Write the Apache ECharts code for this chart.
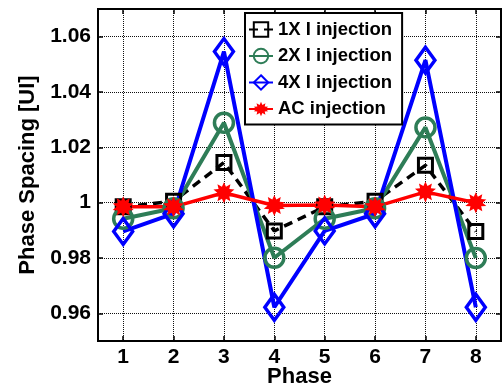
<!DOCTYPE html>
<html>
<head>
<meta charset="utf-8">
<script src="https://cdn.jsdelivr.net/npm/echarts@6/dist/echarts.min.js"></script>
<style>
  html, body { margin: 0; padding: 0; background: #fff; }
  #chart { width: 504px; height: 388px; }
</style>
</head>
<body>
<div id="chart"></div>
<script>
const phases = [1, 2, 3, 4, 5, 6, 7, 8];
const inj1x = [0.9985, 1.0005, 1.0145, 0.9898, 0.9985, 1.0005, 1.0135, 0.9896];
const inj2x = [0.9942, 0.998, 1.0289, 0.9801, 0.9942, 0.998, 1.0272, 0.980];
const inj4x = [0.9896, 0.996, 1.0546, 0.9622, 0.9898, 0.996, 1.0515, 0.9622];
const injAC = [0.9985, 0.9985, 1.0036, 0.999, 0.9992, 0.9985, 1.0039, 1.000];
const yTicks = [0.96, 0.98, 1.00, 1.02, 1.04, 1.06];

const font = 'Liberation Sans, Arial, sans-serif';

// spiky star for the AC markers
function starPath(n, inner) {
  let d = '';
  for (let i = 0; i < n * 2; i++) {
    const r = i % 2 ? inner : 1;
    const a = Math.PI * i / n;
    d += (i ? 'L' : 'M') + (r * Math.sin(a)).toFixed(3) + ',' + (-r * Math.cos(a)).toFixed(3);
  }
  return 'path://' + d + 'Z';
}

const pairs = ys => phases.map((x, i) => [x, ys[i]]);

const myChart = echarts.init(document.getElementById('chart'));

const gridLine = { show: true, lineStyle: { color: '#111', width: 1, type: [1, 1] } };

let option = {
  backgroundColor: '#fff',
  animation: false,
  grid: {
    left: 98, right: 3, top: 9, bottom: 47,
    containLabel: false, outerBoundsMode: 'none',
    show: true, borderColor: '#000', borderWidth: 2
  },
  legend: {
    orient: 'vertical',
    left: 245, top: 13,
    padding: [7, 10, 6, 3],
    itemWidth: 24, itemHeight: 18, itemGap: 7.5,
    backgroundColor: '#fff',
    borderColor: '#000', borderWidth: 2,
    textStyle: { fontFamily: font, fontWeight: 'bold', fontSize: 18.5, color: '#000' },
    data: ['1X I injection', '2X I injection', '4X I injection', 'AC injection']
  },
  xAxis: [
    {
      type: 'value', min: 0.5, max: 8.5,
      name: 'Phase', nameLocation: 'middle', nameGap: 25, nameMoveOverlap: false,
      nameTextStyle: { fontFamily: font, fontWeight: 'bold', fontSize: 22, color: '#000' },
      axisLine: { lineStyle: { color: '#000', width: 2 } },
      axisTick: { inside: true, length: 5, lineStyle: { color: '#000', width: 1.5 }, customValues: phases },
      axisLabel: { customValues: phases, margin: 6, fontFamily: font, fontWeight: 'bold', fontSize: 21, color: '#000' },
      splitLine: gridLine
    },
    {
      type: 'value', min: 0.5, max: 8.5, position: 'top',
      axisLine: { lineStyle: { color: '#000', width: 2 } },
      axisTick: { inside: true, length: 5, lineStyle: { color: '#000', width: 1.5 }, customValues: phases },
      axisLabel: { show: false },
      splitLine: { show: false }
    }
  ],
  yAxis: [
    {
      type: 'value', min: 0.95, max: 1.07,
      name: 'Phase Spacing [UI]', nameLocation: 'middle', nameGap: 59, nameMoveOverlap: false,
      nameTextStyle: { fontFamily: font, fontWeight: 'bold', fontSize: 22, color: '#000' },
      axisLine: { show: true, lineStyle: { color: '#000', width: 2 } },
      axisTick: { show: true, inside: true, length: 5, lineStyle: { color: '#000', width: 1.5 }, customValues: yTicks },
      axisLabel: {
        customValues: yTicks, margin: 7,
        fontFamily: font, fontWeight: 'bold', fontSize: 21, color: '#000',
        formatter: v => String(parseFloat(v.toFixed(2)))
      },
      splitLine: gridLine
    },
    {
      type: 'value', min: 0.95, max: 1.07, position: 'right',
      axisLine: { show: true, lineStyle: { color: '#000', width: 2 } },
      axisTick: { show: true, inside: true, length: 5, lineStyle: { color: '#000', width: 1.5 }, customValues: yTicks },
      axisLabel: { show: false },
      splitLine: { show: false }
    }
  ],
  series: [
    {
      name: '1X I injection', type: 'line', data: pairs(inj1x),
      symbol: 'rect', symbolSize: 14,
      lineStyle: { color: '#000', width: 3.5, type: [9, 6] },
      itemStyle: { color: 'rgba(0,0,0,0)', borderColor: '#000', borderWidth: 3 }
    },
    {
      name: '2X I injection', type: 'line', data: pairs(inj2x),
      symbol: 'circle', symbolSize: 19,
      lineStyle: { color: '#2e7d57', width: 4 },
      itemStyle: { color: 'rgba(0,0,0,0)', borderColor: '#2e7d57', borderWidth: 3.5 }
    },
    {
      name: '4X I injection', type: 'line', data: pairs(inj4x),
      symbol: 'diamond', symbolSize: [19, 26],
      lineStyle: { color: '#0000ff', width: 4 },
      itemStyle: { color: 'rgba(0,0,0,0)', borderColor: '#0000ff', borderWidth: 3.5 }
    },
    {
      name: 'AC injection', type: 'line', data: pairs(injAC),
      symbol: starPath(10, 0.6), symbolSize: 21,
      lineStyle: { color: '#ff0000', width: 3.5 },
      itemStyle: { color: '#ff0000', borderColor: '#ff0000', borderWidth: 0 }
    }
  ]
};
myChart.setOption(option);
window.addEventListener('resize', () => myChart.resize());
</script>
</body>
</html>
